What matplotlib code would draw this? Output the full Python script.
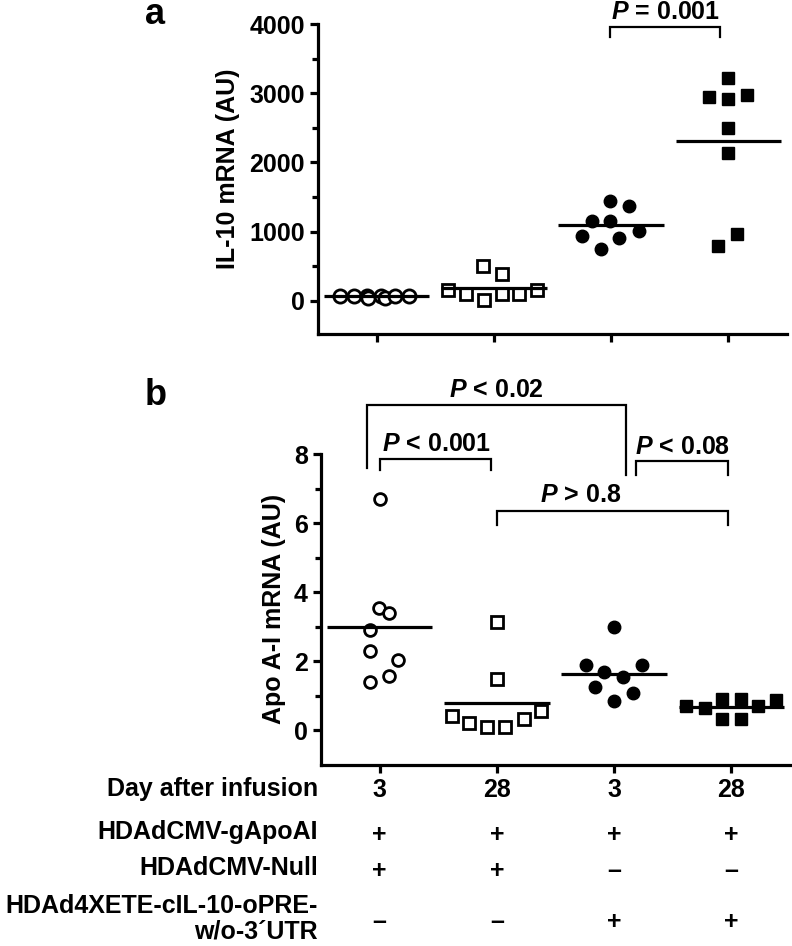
import matplotlib
matplotlib.use("Agg")
import matplotlib.pyplot as plt
import matplotlib.transforms as mtransforms
import numpy as np

plt.rcParams['font.family'] = ['Liberation Sans', 'DejaVu Sans']
plt.rcParams['font.weight'] = 'bold'
plt.rcParams['mathtext.fontset'] = 'custom'
plt.rcParams['mathtext.it'] = 'Liberation Sans:italic:bold'
plt.rcParams['mathtext.rm'] = 'Liberation Sans:bold'

# panel a - IL-10 mRNA (AU)
il10_g1 = [70, 70, 75, 40, 65, 40, 70, 70]
il10_g2 = [155, 97, 497, 14, 387, 97, 97, 155]
il10_g3 = [1449, 1367, 1159, 1159, 1014, 932, 903, 749]
il10_g4 = [3213, 2938, 2923, 2971, 2503, 2141, 967, 797]
il10_off1 = [-0.31, -0.19, -0.086, -0.07, 0.04, 0.07, 0.16, 0.28]
il10_off2 = [-0.39, -0.24, -0.09, -0.08, 0.07, 0.07, 0.215, 0.37]
il10_off3 = [-0.01, 0.15, -0.165, -0.01, 0.235, -0.25, 0.07, -0.09]
il10_off4 = [0, -0.163, 0, 0.16, 0, 0, 0.077, -0.085]

# panel b - Apo A-I mRNA (AU)
apo_g1 = [6.70, 3.53, 3.40, 2.90, 2.30, 2.03, 1.59, 1.40]
apo_g2 = [3.14, 1.50, 0.41, 0.21, 0.10, 0.10, 0.34, 0.56]
apo_g3 = [2.99, 1.88, 1.88, 1.69, 1.55, 1.26, 1.09, 0.84]
apo_g4 = [0.72, 0.65, 0.92, 0.90, 0.34, 0.34, 0.72, 0.87]
apo_off1 = [0, -0.005, 0.08, -0.086, -0.086, 0.157, 0.08, -0.08]
apo_off2 = [0.005, 0, -0.386, -0.235, -0.08, 0.07, 0.228, 0.377]
apo_off3 = [0, -0.243, 0.237, -0.086, 0.077, -0.163, 0.158, 0]
apo_off4 = [-0.386, -0.229, -0.077, 0.08, -0.077, 0.08, 0.229, 0.377]

days = ['3', '28', '3', '28']
row_names = ['HDAdCMV-gApoAI', 'HDAdCMV-Null', 'HDAd4XETE-cIL-10-oPRE-\nw/o-3\u00b4UTR']
row_signs = [['+', '+', '+', '+'],
             ['+', '+', '\u2013', '\u2013'],
             ['\u2013', '\u2013', '+', '+']]

# brackets: x1, x2, y top, y left leg, y right leg, label, label x, label y
brackets_a = [(1.99, 2.93, 3961, 3807, 3807, '$P$ = 0.001', 2.46, 4174)]
brackets_b = [(-0.11, 2.105, 9.42, 7.59, 7.39, '$P$ < 0.02', 1.0, 9.86),
              (0.006, 0.948, 7.86, 7.54, 7.54, '$P$ < 0.001', 0.485, 8.29),
              (2.19, 2.97, 7.81, 7.39, 7.39, '$P$ < 0.08', 2.585, 8.21),
              (1.005, 2.97, 6.36, 5.94, 5.94, '$P$ > 0.8', 1.716, 6.81)]

W, H = 792, 946
fig = plt.figure(figsize=(W / 100, H / 100), dpi=100)

def box(l, t, r, b):
    return [l / W, 1 - b / H, (r - l) / W, (b - t) / H]

ax1 = fig.add_axes(box(318, 24, 787, 334))
ax2 = fig.add_axes(box(321, 454, 790, 765))

styles = [dict(marker='o', mfc='white', mec='black', mew=2.0),
          dict(marker='s', mfc='white', mec='black', mew=2.0),
          dict(marker='o', mfc='black', mec='black', mew=1.0),
          dict(marker='s', mfc='black', mec='black', mew=1.0)]

def draw_panel(ax, groups, offsets, sizes, half):
    for i, (vals, offs) in enumerate(zip(groups, offsets)):
        x = i + np.array(offs)
        ax.plot(x, vals, linestyle='none', ms=sizes[i], clip_on=False, zorder=3, **styles[i])
        m = np.mean(vals)
        ax.plot([i - half, i + half], [m, m], color='black', lw=2.3, zorder=4,
                solid_capstyle='butt', clip_on=False)
    ax.set_xlim(-0.5, 3.5)
    ax.set_xticks(range(4))
    for s in ['top', 'right']:
        ax.spines[s].set_visible(False)
    for s in ['left', 'bottom']:
        ax.spines[s].set_linewidth(2.3)
    ax.tick_params(axis='both', which='major', length=6, width=2.3, labelsize=18)
    ax.tick_params(axis='y', which='minor', length=4, width=2.3)
    ax.patch.set_alpha(0)

def draw_brackets(ax, brackets):
    for x1, x2, yt, yl, yr, lab, tx, ty in brackets:
        ax.plot([x1, x1, x2, x2], [yl, yt, yt, yr], color='black', lw=1.6,
                clip_on=False, solid_joinstyle='miter')
        ax.text(tx, ty, lab, ha='center', va='center', fontsize=18, fontweight='bold')

draw_panel(ax1, [il10_g1, il10_g2, il10_g3, il10_g4],
           [il10_off1, il10_off2, il10_off3, il10_off4], [9.5, 9.0, 9.0, 9.0], 0.45)
ax1.set_ylim(-480, 4000)
ax1.set_yticks([0, 1000, 2000, 3000, 4000])
ax1.set_yticks([500, 1500, 2500, 3500], minor=True)
ax1.set_xticklabels([])
draw_brackets(ax1, brackets_a)

draw_panel(ax2, [apo_g1, apo_g2, apo_g3, apo_g4],
           [apo_off1, apo_off2, apo_off3, apo_off4], [8.5, 8.5, 9.0, 8.5], 0.45)
ax2.set_ylim(-1.0, 8)
ax2.set_yticks([0, 2, 4, 6, 8])
ax2.set_yticks([1, 3, 5, 7], minor=True)
ax2.set_xticklabels(days)
ax2.tick_params(axis='x', pad=3)
draw_brackets(ax2, brackets_b)

fig.text(228 / W, 1 - 169 / H, 'IL-10 mRNA (AU)', rotation=90, ha='center', va='center', fontsize=18)
fig.text(274 / W, 1 - 609 / H, 'Apo A-I mRNA (AU)', rotation=90, ha='center', va='center', fontsize=18)
fig.text(155 / W, 1 - 24 / H, 'a', ha='center', va='baseline', fontsize=26)
fig.text(156 / W, 1 - 405 / H, 'b', ha='center', va='baseline', fontsize=26)

# table under panel b
trans = mtransforms.blended_transform_factory(ax2.transData, fig.transFigure)
fig.text(318 / W, 1 - 789 / H, 'Day after infusion', ha='right', va='center', fontsize=18)
row_y = [832, 868, 919]
for name, signs, y in zip(row_names, row_signs, row_y):
    fig.text(318 / W, 1 - y / H, name, ha='right', va='center', fontsize=18,
             multialignment='right', linespacing=1.1)
    for i, s in enumerate(signs):
        ax2.text(i, 1 - (y + 3) / H, s, transform=trans, ha='center', va='center', fontsize=18)

fig.savefig('out.png', dpi=100)
